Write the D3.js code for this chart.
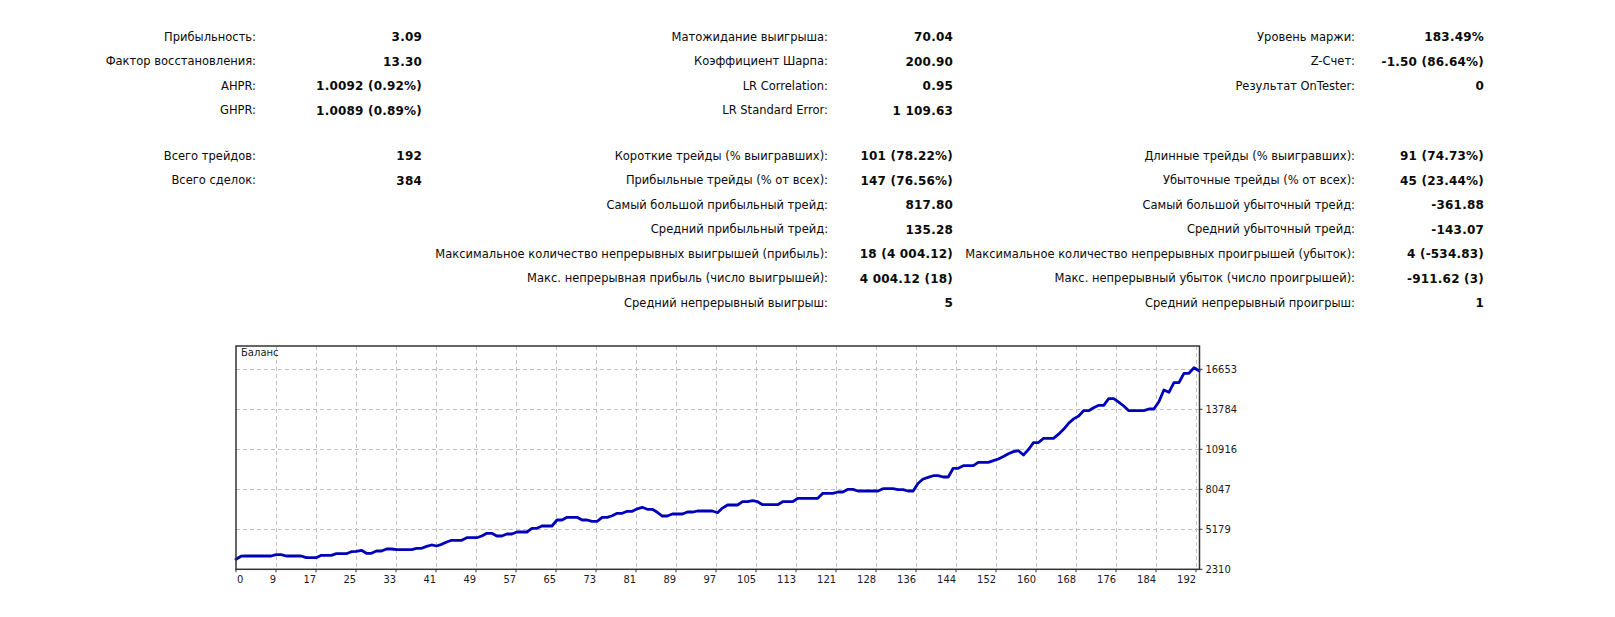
<!DOCTYPE html>
<html>
<head>
<meta charset="utf-8">
<script src="https://cdn.jsdelivr.net/npm/d3@7"></script>
<style>
  body { margin: 0; background: #fff; }
  .stat { font-family: "DejaVu Sans", sans-serif; font-size: 11.5px; fill: #0a0a0a; }
  .val { font-weight: bold; font-size: 12px; letter-spacing: 0.2px; }
  .axis text { font-family: "DejaVu Sans Condensed", "Liberation Sans", sans-serif; font-size: 11px; fill: #1a1a1a; }
</style>
</head>
<body>
<div id="report"></div>
<script>
// statistics table, top block (rows 0..3) and bottom block (rows 0..6)
const leftTopLabels = ["Прибыльность:", "Фактор восстановления:", "AHPR:", "GHPR:"]
const leftTopValues = ["3.09", "13.30", "1.0092 (0.92%)", "1.0089 (0.89%)"]
const leftBottomLabels = ["Всего трейдов:", "Всего сделок:"]
const leftBottomValues = ["192", "384"]

const midTopLabels = ["Матожидание выигрыша:", "Коэффициент Шарпа:", "LR Correlation:", "LR Standard Error:"]
const midTopValues = ["70.04", "200.90", "0.95", "1 109.63"]
const midBottomLabels = [
    "Короткие трейды (% выигравших):",
    "Прибыльные трейды (% от всех):",
    "Самый большой прибыльный трейд:",
    "Средний прибыльный трейд:",
    "Максимальное количество непрерывных выигрышей (прибыль):",
    "Макс. непрерывная прибыль (число выигрышей):",
    "Средний непрерывный выигрыш:"
]
const midBottomValues = ["101 (78.22%)", "147 (76.56%)", "817.80", "135.28", "18 (4 004.12)", "4 004.12 (18)", "5"]

const rightTopLabels = ["Уровень маржи:", "Z-Счет:", "Результат OnTester:"]
const rightTopValues = ["183.49%", "-1.50 (86.64%)", "0"]
const rightBottomLabels = [
    "Длинные трейды (% выигравших):",
    "Убыточные трейды (% от всех):",
    "Самый большой убыточный трейд:",
    "Средний убыточный трейд:",
    "Максимальное количество непрерывных проигрышей (убыток):",
    "Макс. непрерывный убыток (число проигрышей):",
    "Средний непрерывный проигрыш:"
]
const rightBottomValues = ["91 (74.73%)", "45 (23.44%)", "-361.88", "-143.07", "4 (-534.83)", "-911.62 (3)", "1"]

// balance chart
const chartTitle = "Баланс"
const xTickLabels = [0, 9, 17, 25, 33, 41, 49, 57, 65, 73, 81, 89, 97, 105, 113, 121, 128, 136, 144, 152, 160, 168, 176, 184, 192]
const yTickValues = [2310, 5179, 8047, 10916, 13784, 16653]
const balance = [
    3027, 3250, 3264, 3264, 3264, 3264, 3264, 3264, 3357, 3357,
    3264, 3264, 3264, 3264, 3142, 3142, 3142, 3314, 3314, 3314,
    3429, 3429, 3429, 3572, 3600, 3672, 3457, 3457, 3622, 3622,
    3766, 3766, 3716, 3716, 3716, 3716, 3816, 3816, 3950, 4053,
    3981, 4100, 4268, 4390, 4390, 4390, 4576, 4576, 4576, 4700,
    4892, 4892, 4698, 4698, 4842, 4842, 4985, 4985, 4985, 5250,
    5250, 5415, 5415, 5415, 5846, 5846, 6039, 6039, 6039, 5846,
    5846, 5752, 5752, 6039, 6039, 6150, 6326, 6326, 6469, 6469,
    6650, 6756, 6613, 6613, 6400, 6132, 6132, 6276, 6276, 6276,
    6419, 6419, 6491, 6491, 6491, 6491, 6369, 6700, 6921, 6921,
    6921, 7159, 7159, 7230, 7159, 6944, 6944, 6944, 6944, 7159,
    7159, 7159, 7402, 7402, 7402, 7402, 7402, 7760, 7760, 7760,
    7854, 7854, 8047, 8047, 7925, 7925, 7925, 7925, 7925, 8091,
    8091, 8091, 8019, 8019, 7925, 7925, 8478, 8786, 8900, 9022,
    9022, 8929, 8929, 9553, 9553, 9740, 9740, 9740, 9983, 9983,
    9983, 10100, 10221, 10400, 10600, 10750, 10815, 10508, 10900, 11389,
    11400, 11704, 11704, 11704, 12000, 12350, 12780, 13100, 13304, 13684,
    13684, 13900, 14071, 14071, 14544, 14544, 14300, 14020, 13684, 13684,
    13684, 13684, 13805, 13805, 14330, 15169, 15003, 15692, 15692, 16366,
    16366, 16768, 16553
]

const W = 1615, H = 617

const svg = d3.select("#report")
    .append("svg")
    .attr("width", W)
    .attr("height", H)
    .attr("viewBox", `0 0 ${W} ${H}`)

// ---------- statistics ----------
const rowTop = d3.scaleLinear().domain([0, 1]).range([36.7, 61.2])
const rowBottom = d3.scaleLinear().domain([0, 1]).range([155.7, 180.2])

const columns = [
    {labelX: 256, valueX: 422, top: [leftTopLabels, leftTopValues], bottom: [leftBottomLabels, leftBottomValues]},
    {labelX: 828, valueX: 953, top: [midTopLabels, midTopValues], bottom: [midBottomLabels, midBottomValues]},
    {labelX: 1355, valueX: 1484, top: [rightTopLabels, rightTopValues], bottom: [rightBottomLabels, rightBottomValues]}
]

const stats = svg.append("g").attr("class", "stats")

columns.forEach(col => {
    const rows = []
    col.top[0].forEach((l, i) => rows.push({label: l, value: col.top[1][i], y: rowTop(i)}))
    col.bottom[0].forEach((l, i) => rows.push({label: l, value: col.bottom[1][i], y: rowBottom(i)}))

    const g = stats.append("g")
    g.selectAll(".lbl")
        .data(rows)
        .join("text")
        .attr("class", "stat lbl")
        .attr("x", col.labelX)
        .attr("y", d => d.y)
        .attr("dy", "0.36em")
        .attr("text-anchor", "end")
        .text(d => d.label)

    g.selectAll(".val")
        .data(rows)
        .join("text")
        .attr("class", "stat val")
        .attr("x", col.valueX)
        .attr("y", d => d.y)
        .attr("dy", "0.36em")
        .attr("text-anchor", "end")
        .text(d => d.value)
})

// ---------- balance chart ----------
const cx0 = 236, cx1 = 1199.5, cy0 = 346, cy1 = 569.3

const x = d3.scaleLinear()
    .domain([0, balance.length - 1])
    .range([cx0, cx1 - 0.5])

const xTicks = d3.scalePoint()
    .domain(xTickLabels)
    .range([cx0, cx0 + 960])

const y = d3.scaleLinear()
    .domain([2310, 18324])
    .range([cy1, cy0])

const chart = svg.append("g").attr("class", "chart")

// grid
chart.append("g")
    .selectAll("line")
    .data(xTickLabels.slice(1))
    .join("line")
    .attr("x1", d => xTicks(d))
    .attr("x2", d => xTicks(d))
    .attr("y1", cy0)
    .attr("y2", cy1)
    .attr("stroke", "#c0c0c0")
    .attr("stroke-dasharray", "4,3")
    .attr("shape-rendering", "crispEdges")

chart.append("g")
    .selectAll("line")
    .data(yTickValues.slice(1))
    .join("line")
    .attr("x1", cx0)
    .attr("x2", cx1)
    .attr("y1", d => Math.round(y(d)) + 0.5)
    .attr("y2", d => Math.round(y(d)) + 0.5)
    .attr("stroke", "#c0c0c0")
    .attr("stroke-dasharray", "4,3")

// balance line
const line = d3.line()
    .x((d, i) => x(i))
    .y(d => y(d))

chart.append("path")
    .datum(balance)
    .attr("d", line)
    .attr("fill", "none")
    .attr("stroke", "#0000b8")
    .attr("stroke-width", 2.8)
    .attr("stroke-linejoin", "round")
    .attr("stroke-linecap", "round")

// frame
chart.append("rect")
    .attr("x", cx0)
    .attr("y", cy0)
    .attr("width", cx1 - cx0)
    .attr("height", cy1 - cy0)
    .attr("fill", "none")
    .attr("stroke", "#333")
    .attr("stroke-width", 1.5)

chart.append("text")
    .attr("x", cx0 + 5)
    .attr("y", cy0 + 10)
    .attr("font-family", "DejaVu Sans, sans-serif")
    .attr("font-size", "10px")
    .attr("fill", "#222")
    .text(chartTitle)

// x axis
const xAxis = chart.append("g").attr("class", "axis")
xAxis.selectAll("line")
    .data(xTickLabels)
    .join("line")
    .attr("x1", d => xTicks(d))
    .attr("x2", d => xTicks(d))
    .attr("y1", cy1)
    .attr("y2", cy1 + 3)
    .attr("stroke", "#333")

xAxis.selectAll("text")
    .data(xTickLabels)
    .join("text")
    .attr("x", (d, i) => i === 0 ? xTicks(d) + 1 : xTicks(d))
    .attr("y", cy1 + 14)
    .attr("text-anchor", (d, i) => i === 0 ? "start" : "end")
    .text(d => d)

// y axis (right side)
const yAxis = chart.append("g").attr("class", "axis")
yAxis.selectAll("line")
    .data(yTickValues)
    .join("line")
    .attr("x1", cx1)
    .attr("x2", cx1 + 3)
    .attr("y1", d => y(d))
    .attr("y2", d => y(d))
    .attr("stroke", "#333")

yAxis.selectAll("text")
    .data(yTickValues)
    .join("text")
    .attr("x", cx1 + 6)
    .attr("y", d => y(d))
    .attr("dy", "0.35em")
    .text(d => d)
</script>
</body>
</html>
